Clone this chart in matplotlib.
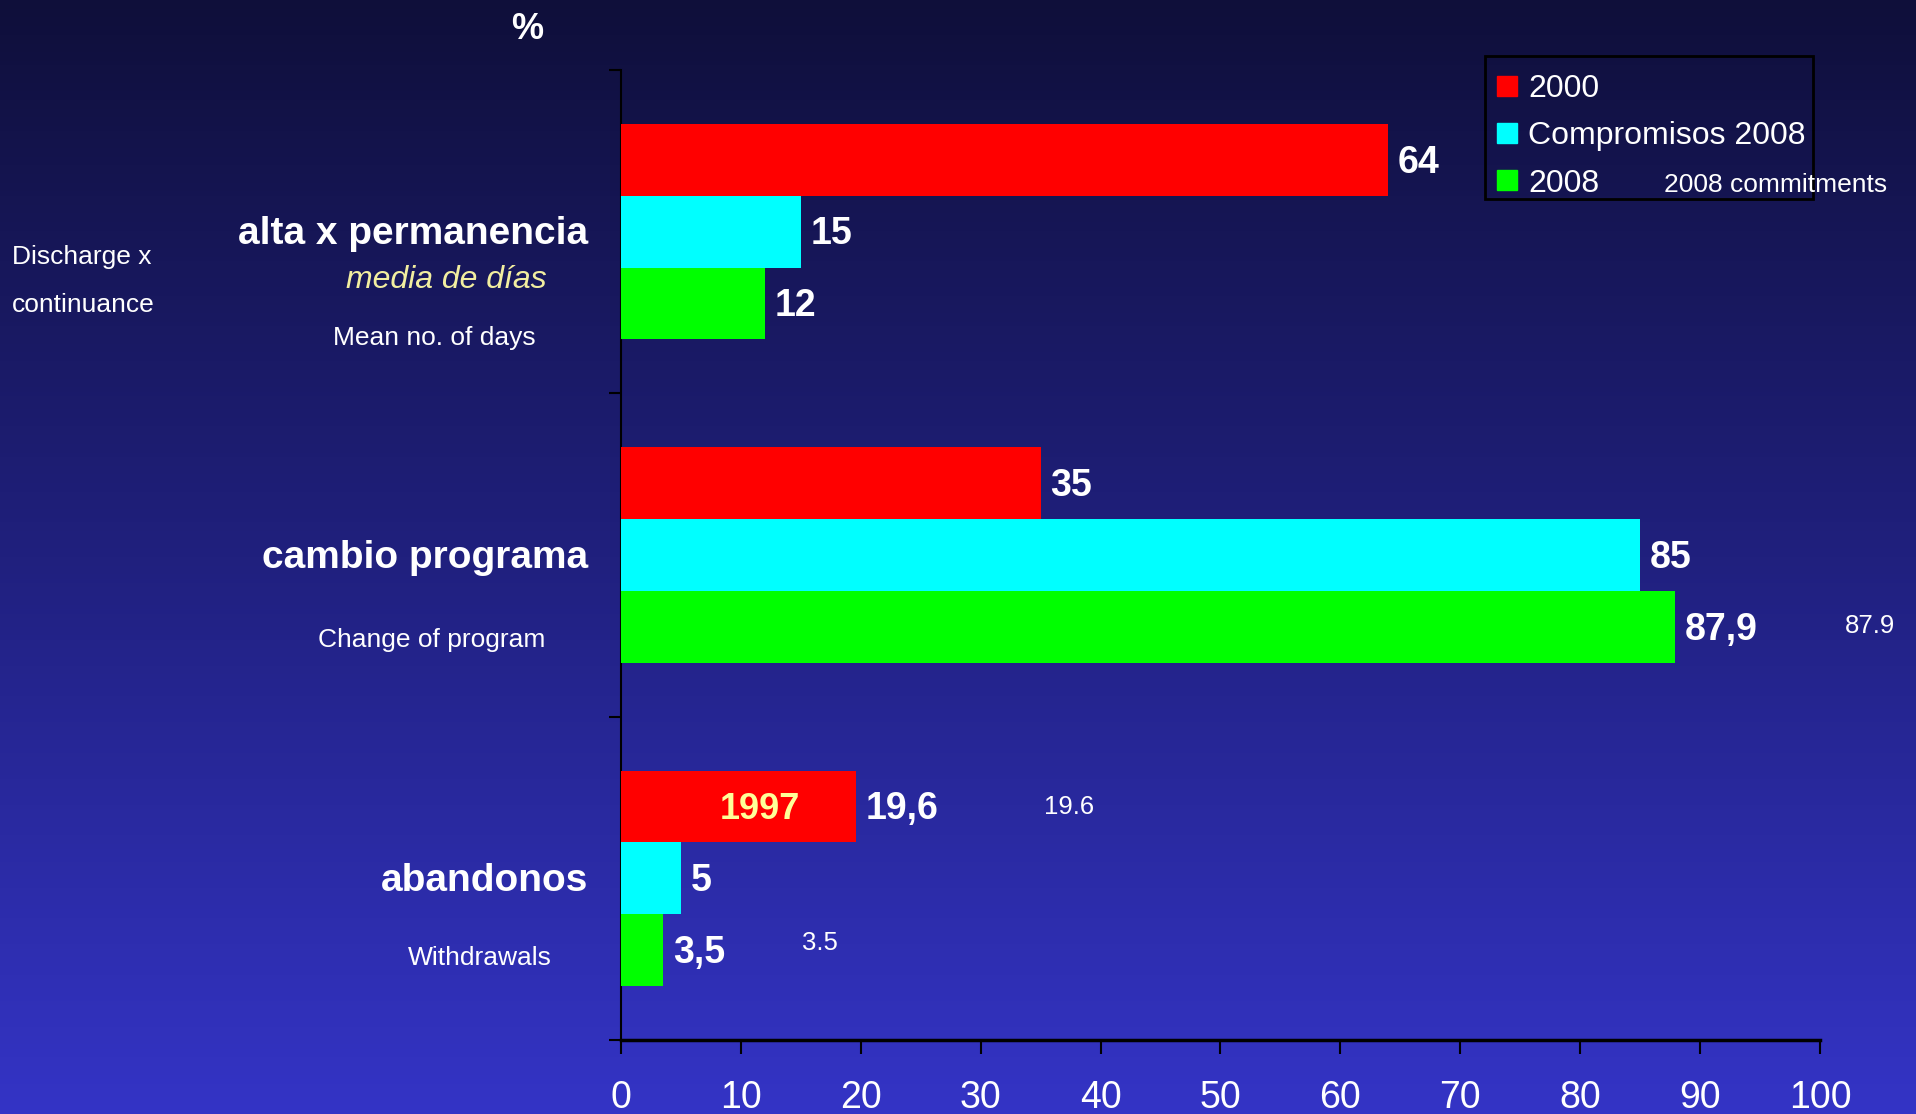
import numpy as np
import matplotlib
matplotlib.use("Agg")
import matplotlib.pyplot as plt
from matplotlib.colors import LinearSegmentedColormap
from matplotlib.lines import Line2D
from matplotlib.patches import Rectangle

plt.rcParams['font.family'] = ['Liberation Sans', 'DejaVu Sans']

# indicators (top to bottom) and their values in %
categories = ['alta x permanencia', 'cambio programa', 'abandonos']
english = ['Mean no. of days', 'Change of program', 'Withdrawals']
series = ['2000', 'Compromisos 2008', '2008']
v2000 = [64, 35, 19.6]
v_comp2008 = [15, 85, 5]
v2008 = [12, 87.9, 3.5]
colors = ['#ff0000', '#00ffff', '#00ff00']
xticks = [0, 10, 20, 30, 40, 50, 60, 70, 80, 90, 100]

W, H = 1916, 1114
fig = plt.figure(figsize=(W / 100, H / 100), dpi=100)

# navy-to-blue vertical gradient behind everything
bg = fig.add_axes([0, 0, 1, 1], zorder=-10)
grad = LinearSegmentedColormap.from_list('bg', ['#0f0f3a', '#20207e', '#3434c6'])
bg.imshow(np.linspace(0, 1, 256).reshape(-1, 1), cmap=grad, aspect='auto',
          extent=[0, 1, 0, 1], origin='upper')
bg.axis('off')

ax = fig.add_axes([0.3241, 0.0664, 0.6258, 0.8708])
ax.set_facecolor('none')

y = np.arange(len(categories))
h = 0.222
for i, (vals, col) in enumerate(zip([v2000, v_comp2008, v2008], colors)):
    pos = y + (i - 1) * h
    ax.barh(pos, vals, height=h, color=col, zorder=3)
    for p, v in zip(pos, vals):
        ax.annotate(f"{v:g}".replace('.', ','), (v, p), xytext=(7, -2),
                    textcoords='offset points', va='center', ha='left',
                    color='white', fontsize=27, fontweight='bold')

ax.set_xlim(0, 100)
ax.set_ylim(2.5, -0.5)
ax.set_xticks(xticks)
ax.set_xticklabels([str(t) for t in xticks])
ax.set_yticks([])
ax.set_yticks([-0.5, 0.5, 1.5, 2.5], minor=True)
ax.tick_params(axis='y', which='minor', length=9, width=1.5, color='black',
               direction='out')
ax.tick_params(axis='x', length=10, width=1.5, color='black', direction='out',
               pad=19, labelsize=27, labelcolor='white')
for s in ['top', 'right']:
    ax.spines[s].set_visible(False)
ax.spines['left'].set_color('black')
ax.spines['left'].set_linewidth(1.5)
ax.spines['bottom'].set_color('black')
ax.spines['bottom'].set_linewidth(2.5)

# category labels and translations
ytr = ax.get_yaxis_transform()
for yc, lab in zip(y, categories):
    ax.text(-0.027, yc + 0.008, lab, transform=ytr, ha='right',
            va='center', color='white', fontsize=28, fontweight='bold')
ax.text(-0.146, 0.15, 'media de días', transform=ytr,
        ha='center', va='center', color='#f2eea0', fontsize=23, style='italic')
eng_pos = [(-0.156, 0.328), (-0.158, 1.262), (-0.118, 2.247)]
for (xa, ya), lab in zip(eng_pos, english):
    ax.text(xa, ya, lab, transform=ytr, ha='center',
            va='center', color='white', fontsize=19)
ax.text(-0.508, 0.078, 'Discharge x', transform=ytr,
        ha='left', va='center', color='white', fontsize=19)
ax.text(-0.508, 0.227, 'continuance', transform=ytr,
        ha='left', va='center', color='white', fontsize=19)
ax.text(-0.078, 1.042, '%', transform=ax.transAxes, ha='center', va='center',
        color='white', fontsize=26, fontweight='bold')

# point-decimal versions of some values
ax.text(104.2, 1.22, f"{v2008[1]:g}", ha='center', va='center',
        color='white', fontsize=18.5, clip_on=False)
ax.text(37.4, 1.779, f"{v2000[2]:g}", ha='center', va='center',
        color='white', fontsize=18.5)
ax.text(16.6, 2.201, f"{v2008[2]:g}", ha='center', va='center',
        color='white', fontsize=18.5)
ax.text(11.6, 2 - h + 0.01, '1997', ha='center', va='center', color='#ffff99',
        fontsize=26, fontweight='bold', zorder=4)

# legend entries without frame, box drawn separately
handles = [Line2D([], [], linestyle='none', marker='s', markersize=15,
                  markerfacecolor=c, markeredgecolor=c) for c in colors]
fig.legend(handles, series, loc='upper left',
           bbox_to_anchor=(1496 / W, 1 - 74 / H), fontsize=23,
           frameon=False, handlelength=0.7, handletextpad=0.3,
           labelspacing=0.54, borderpad=0, borderaxespad=0,
           labelcolor='white')
fig.patches.append(Rectangle((1485 / W, 1 - 199 / H), 328 / W, 143 / H,
                             transform=fig.transFigure, fill=False,
                             edgecolor='black', linewidth=2))
fig.text(1664 / W, 1 - 185 / H, '2008 commitments', ha='left',
         va='center', color='white', fontsize=19)

fig.savefig('out.png', dpi=100)
